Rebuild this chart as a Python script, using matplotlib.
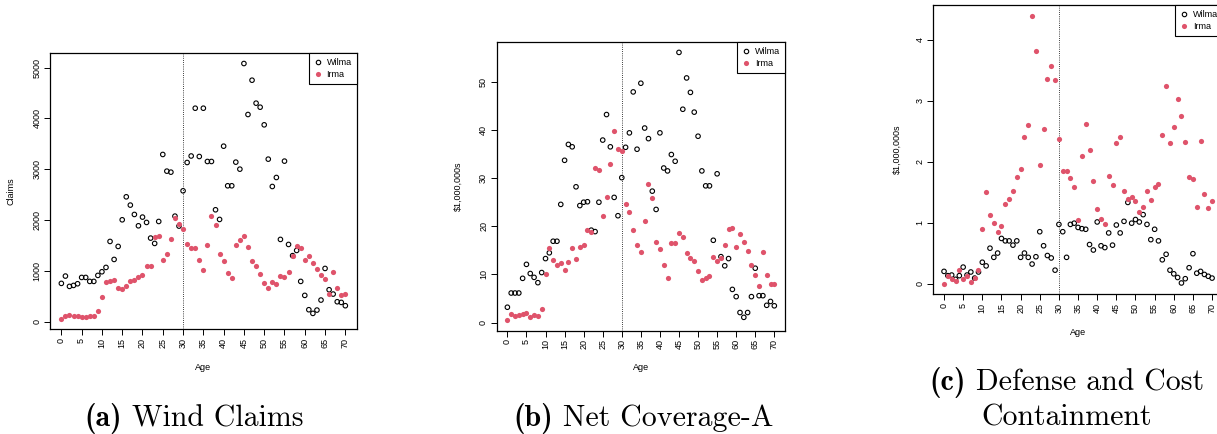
import matplotlib
matplotlib.use("Agg")
import matplotlib.pyplot as plt
from matplotlib.lines import Line2D
from matplotlib.transforms import offset_copy
import numpy as np

ages = list(range(0, 71))

# (a) Wind Claims
claims_wilma = [754, 898, 695, 714, 747, 871, 871, 793, 793, 911,
                983, 1068, 1579, 1225, 1481, 2005, 2457, 2294, 2110, 1887,
                2058, 1953, 1645, 1540, 1972, 3290, 2962, 2942, 2077, 1881,
                2575, 3132, 3260, 4200, 3250, 4200, 3152, 3152, 2202, 2012,
                3453, 2674, 2674, 3139, 3001, 5079, 4076, 4751, 4299, 4220,
                3873, 3198, 2660, 2837, 1619, 3159, 1520, 1300, 1402, 793,
                518, 236, 164, 229, 426, 1048, 629, 544, 393, 380, 315]
claims_irma = [52, 118, 131, 105, 118, 98, 85, 111, 105, 210,
               491, 773, 793, 813, 662, 649, 701, 793, 813, 878,
               911, 1088, 1088, 1658, 1691, 1206, 1324, 1619, 2031, 1920,
               1815, 1520, 1455, 1455, 1206, 1022, 1501, 2077, 1894, 1324,
               1186, 963, 852, 1514, 1599, 1691, 1474, 1186, 1088, 944,
               760, 668, 786, 740, 898, 871, 983, 1284, 1488, 1442,
               1212, 1297, 1147, 1035, 911, 839, 544, 970, 668, 524, 537]

# (b) Net Coverage-A ($1,000,000s)
cov_wilma = [3.2, 6.15, 6.15, 6.15, 9.2, 12.1, 10.2, 9.4, 8.3, 10.4,
             13.3, 14.5, 16.9, 16.9, 24.55, 33.7, 37.0, 36.5, 28.2, 24.3,
             25.0, 25.1, 19.2, 18.9, 25.0, 37.9, 43.2, 36.5, 26.0, 22.2,
             30.1, 36.4, 39.4, 47.9, 36.0, 49.7, 40.4, 38.2, 27.3, 23.5,
             39.4, 32.1, 31.5, 34.9, 33.5, 56.1, 44.3, 50.8, 47.8, 43.7,
             38.7, 31.5, 28.4, 28.4, 17.1, 30.9, 13.7, 11.8, 13.3, 6.9,
             5.4, 2.1, 1.1, 2.1, 5.4, 11.3, 5.6, 5.6, 3.6, 4.4, 3.5]
cov_irma = [0.55, 1.8, 1.4, 1.5, 1.8, 1.9, 1.1, 1.5, 1.45, 2.8,
            10.2, 15.4, 13.0, 12.0, 12.3, 10.9, 12.6, 15.4, 13.3, 15.6,
            16.1, 19.2, 18.8, 32.0, 31.6, 22.2, 26.1, 33.0, 39.8, 36.0,
            35.7, 24.6, 22.9, 19.2, 16.1, 14.6, 21.0, 28.8, 25.9, 16.7,
            15.3, 12.0, 9.2, 16.5, 16.5, 18.7, 17.8, 14.5, 13.5, 12.9,
            10.7, 8.9, 9.2, 9.7, 13.6, 12.7, 13.5, 16.1, 19.4, 19.6,
            15.8, 18.5, 16.7, 14.9, 12.0, 9.9, 7.7, 14.6, 9.9, 8.0, 8.1]

# (c) Defense and Cost Containment ($1,000,000s)
dcc_wilma = [0.20, 0.13, 0.14, 0.07, 0.13, 0.27, 0.14, 0.19, 0.09, 0.19,
             0.35, 0.29, 0.58, 0.43, 0.50, 0.74, 0.70, 0.70, 0.63, 0.70,
             0.43, 0.50, 0.43, 0.32, 0.44, 0.85, 0.62, 0.46, 0.42, 0.22,
             0.97, 0.85, 0.43, 0.97, 0.99, 0.92, 0.90, 0.89, 0.64, 0.55,
             1.01, 0.62, 0.59, 0.83, 0.63, 0.96, 0.83, 1.02, 1.33, 0.99,
             1.05, 1.01, 1.13, 0.97, 0.72, 0.89, 0.70, 0.39, 0.48, 0.22,
             0.16, 0.10, 0.01, 0.08, 0.26, 0.49, 0.17, 0.20, 0.15, 0.12, 0.09]
dcc_irma = [0.00, 0.13, 0.08, 0.05, 0.23, 0.07, 0.12, 0.03, 0.09, 0.23,
            0.89, 1.50, 1.13, 0.99, 0.85, 0.94, 1.30, 1.38, 1.51, 1.75,
            1.87, 2.40, 2.60, 4.39, 3.81, 1.95, 2.54, 3.36, 3.56, 3.33,
            2.37, 1.84, 1.84, 1.73, 1.59, 1.05, 2.09, 2.62, 2.19, 1.68,
            1.22, 1.06, 0.97, 1.77, 1.61, 2.31, 2.40, 1.52, 1.38, 1.42,
            1.35, 1.17, 1.26, 1.52, 1.37, 1.58, 1.64, 2.44, 3.23, 2.31,
            2.57, 3.02, 2.75, 2.32, 1.75, 1.72, 1.25, 2.34, 1.46, 1.24, 1.36]

x_ticks = list(range(0, 71, 5))
y_ticks_a = [0, 1000, 2000, 3000, 4000, 5000]
y_ticks_b = [0, 10, 20, 30, 40, 50]
y_ticks_c = [0, 1, 2, 3, 4]

panels = [
    dict(w=claims_wilma, i=claims_irma, yt=y_ticks_a, ylabel="Claims",
         pos=[50, 53.3, 356.7, 329.3], ylx=-0.111, xly=-0.122),
    dict(w=cov_wilma, i=cov_irma, yt=y_ticks_b, ylabel="$1,000,000s",
         pos=[496.7, 41.7, 785, 330.7], ylx=-0.119, xly=-0.112),
    dict(w=dcc_wilma, i=dcc_irma, yt=y_ticks_c, ylabel="$1,000,000s",
         pos=[933.3, 5, 1222.8, 294.3], ylx=-0.110, xly=-0.115),
]

W, H = 1217, 434
fig = plt.figure(figsize=(W / 100, H / 100), dpi=100)

RED = "#DF536B"
sans = ['Liberation Sans', 'DejaVu Sans']
fs = 6.5

for p in panels:
    l, t, r, b = p["pos"]
    ax = fig.add_axes([l / W, 1 - b / H, (r - l) / W, (b - t) / H])
    ax.scatter(ages, p["w"], s=10.5, facecolors='none', edgecolors='black',
               linewidths=0.8, zorder=3)
    ax.scatter(ages, p["i"], s=14, color=RED, linewidths=0, zorder=4)
    ax.axvline(30, color='black', linestyle=(0, (1, 1.6)), linewidth=0.6, zorder=2)
    ax.margins(x=0.04, y=0.04)
    ax.set_xticks(x_ticks)
    ax.set_yticks(p["yt"])
    ax.set_xticklabels([str(v) for v in x_ticks], rotation=90,
                       fontsize=fs, family=sans)
    ax.set_yticklabels([str(v) for v in p["yt"]], rotation=90, va='center',
                       fontsize=fs, family=sans)
    ax.tick_params(length=4, width=0.7, pad=2.2, color='black')
    for sp in ax.spines.values():
        sp.set_linewidth(0.9)
    ax.set_ylabel(p["ylabel"], fontsize=fs, family=sans)
    ax.set_xlabel("Age", fontsize=fs, family=sans)
    ax.yaxis.set_label_coords(p["ylx"], 0.5)
    ax.xaxis.set_label_coords(0.5, p["xly"])
    handles = [Line2D([], [], linestyle='none', marker='o', markersize=3.2,
                      markerfacecolor='none', markeredgecolor='black',
                      markeredgewidth=0.8, label='Wilma'),
               Line2D([], [], linestyle='none', marker='o', markersize=3.7,
                      markerfacecolor=RED, markeredgecolor=RED,
                      markeredgewidth=0, label='Irma')]
    leg = ax.legend(handles=handles, loc='upper right', borderaxespad=0,
                    prop={'family': sans, 'size': fs}, frameon=True,
                    fancybox=False, edgecolor='black', framealpha=1,
                    handlelength=0.8, handletextpad=0.6, borderpad=0.55,
                    labelspacing=0.35)
    leg.get_frame().set_linewidth(0.8)

CAP_FS = 21.5
renderer = fig.canvas.get_renderer()


def caption(cx, cy, bold, rest):
    """Centered caption: bold label in cmb10 followed by text in cmr10."""
    parts = []
    if bold:
        parts.append((bold, 'cmb10'))
        parts.append(("\u00a0" + rest if False else " " + rest, 'cmr10'))
    else:
        parts.append((rest, 'cmr10'))
    texts = [fig.text(0, 0, s, family=f, fontsize=CAP_FS, ha='left',
                      va='baseline') for s, f in parts]
    widths = [t.get_window_extent(renderer).width for t in texts]
    total = sum(widths)
    x0 = cx - total / 2
    base = H - cy - CAP_FS * 1.389 * 0.35
    for t, w in zip(texts, widths):
        t.set_transform(None)
        t.set_position((x0, base))
        x0 += w


caption(194, 416, "(a)", "Wind Claims")
caption(643, 416, "(b)", "Net Coverage-A")
caption(1067, 380, "(c)", "Defense and Cost")
caption(1067, 415, None, "Containment")

fig.savefig("out.png", dpi=100)
